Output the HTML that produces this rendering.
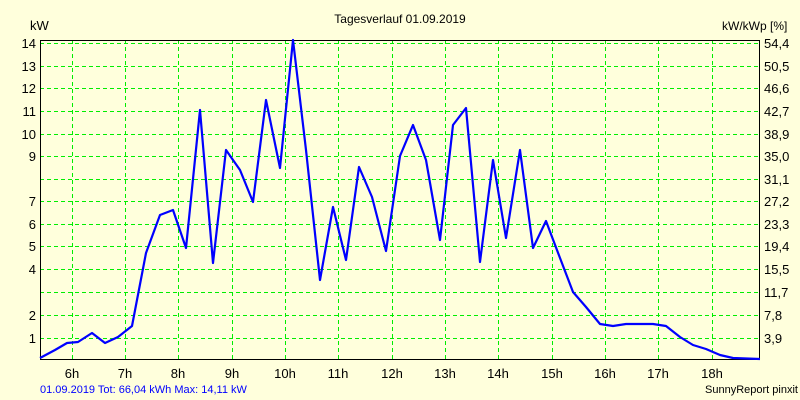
<!DOCTYPE html>
<html><head><style>body{margin:0;background:#ffffdc}svg{display:block}text{font-family:"Liberation Sans",sans-serif;font-size:13px;fill:#000}</style></head><body>
<svg width="800" height="400" viewBox="0 0 800 400" xmlns="http://www.w3.org/2000/svg">
<rect width="800" height="400" fill="#ffffdc"/>
<g stroke="#00ee00" stroke-width="1" stroke-dasharray="4,3">
<line x1="40" x2="760" y1="43.5" y2="43.5"/><line x1="40" x2="760" y1="66.5" y2="66.5"/><line x1="40" x2="760" y1="88.5" y2="88.5"/><line x1="40" x2="760" y1="111.5" y2="111.5"/><line x1="40" x2="760" y1="134.5" y2="134.5"/><line x1="40" x2="760" y1="156.5" y2="156.5"/><line x1="40" x2="760" y1="179.5" y2="179.5"/><line x1="40" x2="760" y1="201.5" y2="201.5"/><line x1="40" x2="760" y1="224.5" y2="224.5"/><line x1="40" x2="760" y1="246.5" y2="246.5"/><line x1="40" x2="760" y1="269.5" y2="269.5"/><line x1="40" x2="760" y1="292.5" y2="292.5"/><line x1="40" x2="760" y1="315.5" y2="315.5"/><line x1="40" x2="760" y1="338.5" y2="338.5"/>
<line y1="40" y2="360" x1="72.5" x2="72.5"/><line y1="40" y2="360" x1="125.5" x2="125.5"/><line y1="40" y2="360" x1="178.5" x2="178.5"/><line y1="40" y2="360" x1="232.5" x2="232.5"/><line y1="40" y2="360" x1="285.5" x2="285.5"/><line y1="40" y2="360" x1="338.5" x2="338.5"/><line y1="40" y2="360" x1="392.5" x2="392.5"/><line y1="40" y2="360" x1="445.5" x2="445.5"/><line y1="40" y2="360" x1="498.5" x2="498.5"/><line y1="40" y2="360" x1="552.5" x2="552.5"/><line y1="40" y2="360" x1="605.5" x2="605.5"/><line y1="40" y2="360" x1="658.5" x2="658.5"/><line y1="40" y2="360" x1="712.5" x2="712.5"/>
</g>
<rect x="40.5" y="40.5" width="719" height="319" fill="none" stroke="#000" stroke-width="1"/>
<polyline fill="none" stroke="#0000ff" stroke-width="2.2" stroke-linejoin="round" points="40,358 55,350 67,343 78,342 92,333 105,343 118,337 132,326 146,253 160,215 173,210 186,248 200,110 213,263 226,150 240,170 253,202 266,100 280,168 293,40 306,150 320,280 333,207 346,260 359,167 372,197 386,251 400,156 413,125 426,160 440,240 453,125 466,108 480,262 493,160 506,238 520,150 533,248 546,221 560,258 573,292 586,307 600,324 613,326 626,324 640,324 653,324 666,326 680,337 693,345 706,349 720,355 733,358 760,359"/>
<g text-anchor="end">
<text x="36" y="48">14</text><text x="36" y="71">13</text><text x="36" y="93">12</text><text x="36" y="116">11</text><text x="36" y="139">10</text><text x="36" y="161">9</text><text x="36" y="206">7</text><text x="36" y="229">6</text><text x="36" y="251">5</text><text x="36" y="274">4</text><text x="36" y="320">2</text><text x="36" y="343">1</text>
</g>
<g>
<text x="764" y="48">54,4</text><text x="764" y="71">50,5</text><text x="764" y="93">46,6</text><text x="764" y="116">42,7</text><text x="764" y="139">38,9</text><text x="764" y="161">35,0</text><text x="764" y="184">31,1</text><text x="764" y="206">27,2</text><text x="764" y="229">23,3</text><text x="764" y="251">19,4</text><text x="764" y="274">15,5</text><text x="764" y="297">11,7</text><text x="764" y="320">7,8</text><text x="764" y="343">3,9</text>
</g>
<g text-anchor="middle">
<text x="72" y="378">6h</text><text x="125" y="378">7h</text><text x="178" y="378">8h</text><text x="232" y="378">9h</text><text x="285" y="378">10h</text><text x="338" y="378">11h</text><text x="392" y="378">12h</text><text x="445" y="378">13h</text><text x="498" y="378">14h</text><text x="552" y="378">15h</text><text x="605" y="378">16h</text><text x="658" y="378">17h</text><text x="712" y="378">18h</text>
<text x="400" y="23" style="font-size:12px">Tagesverlauf 01.09.2019</text>
</g>
<text x="30" y="30">kW</text>
<text x="722" y="30" style="font-size:12px">kW/kWp [%]</text>
<text x="40" y="393" style="font-size:11px;fill:#0000ff">01.09.2019 Tot: 66,04 kWh Max: 14,11 kW</text>
<text x="705" y="393" style="font-size:11px">SunnyReport pinxit</text>
</svg>
</body></html>
